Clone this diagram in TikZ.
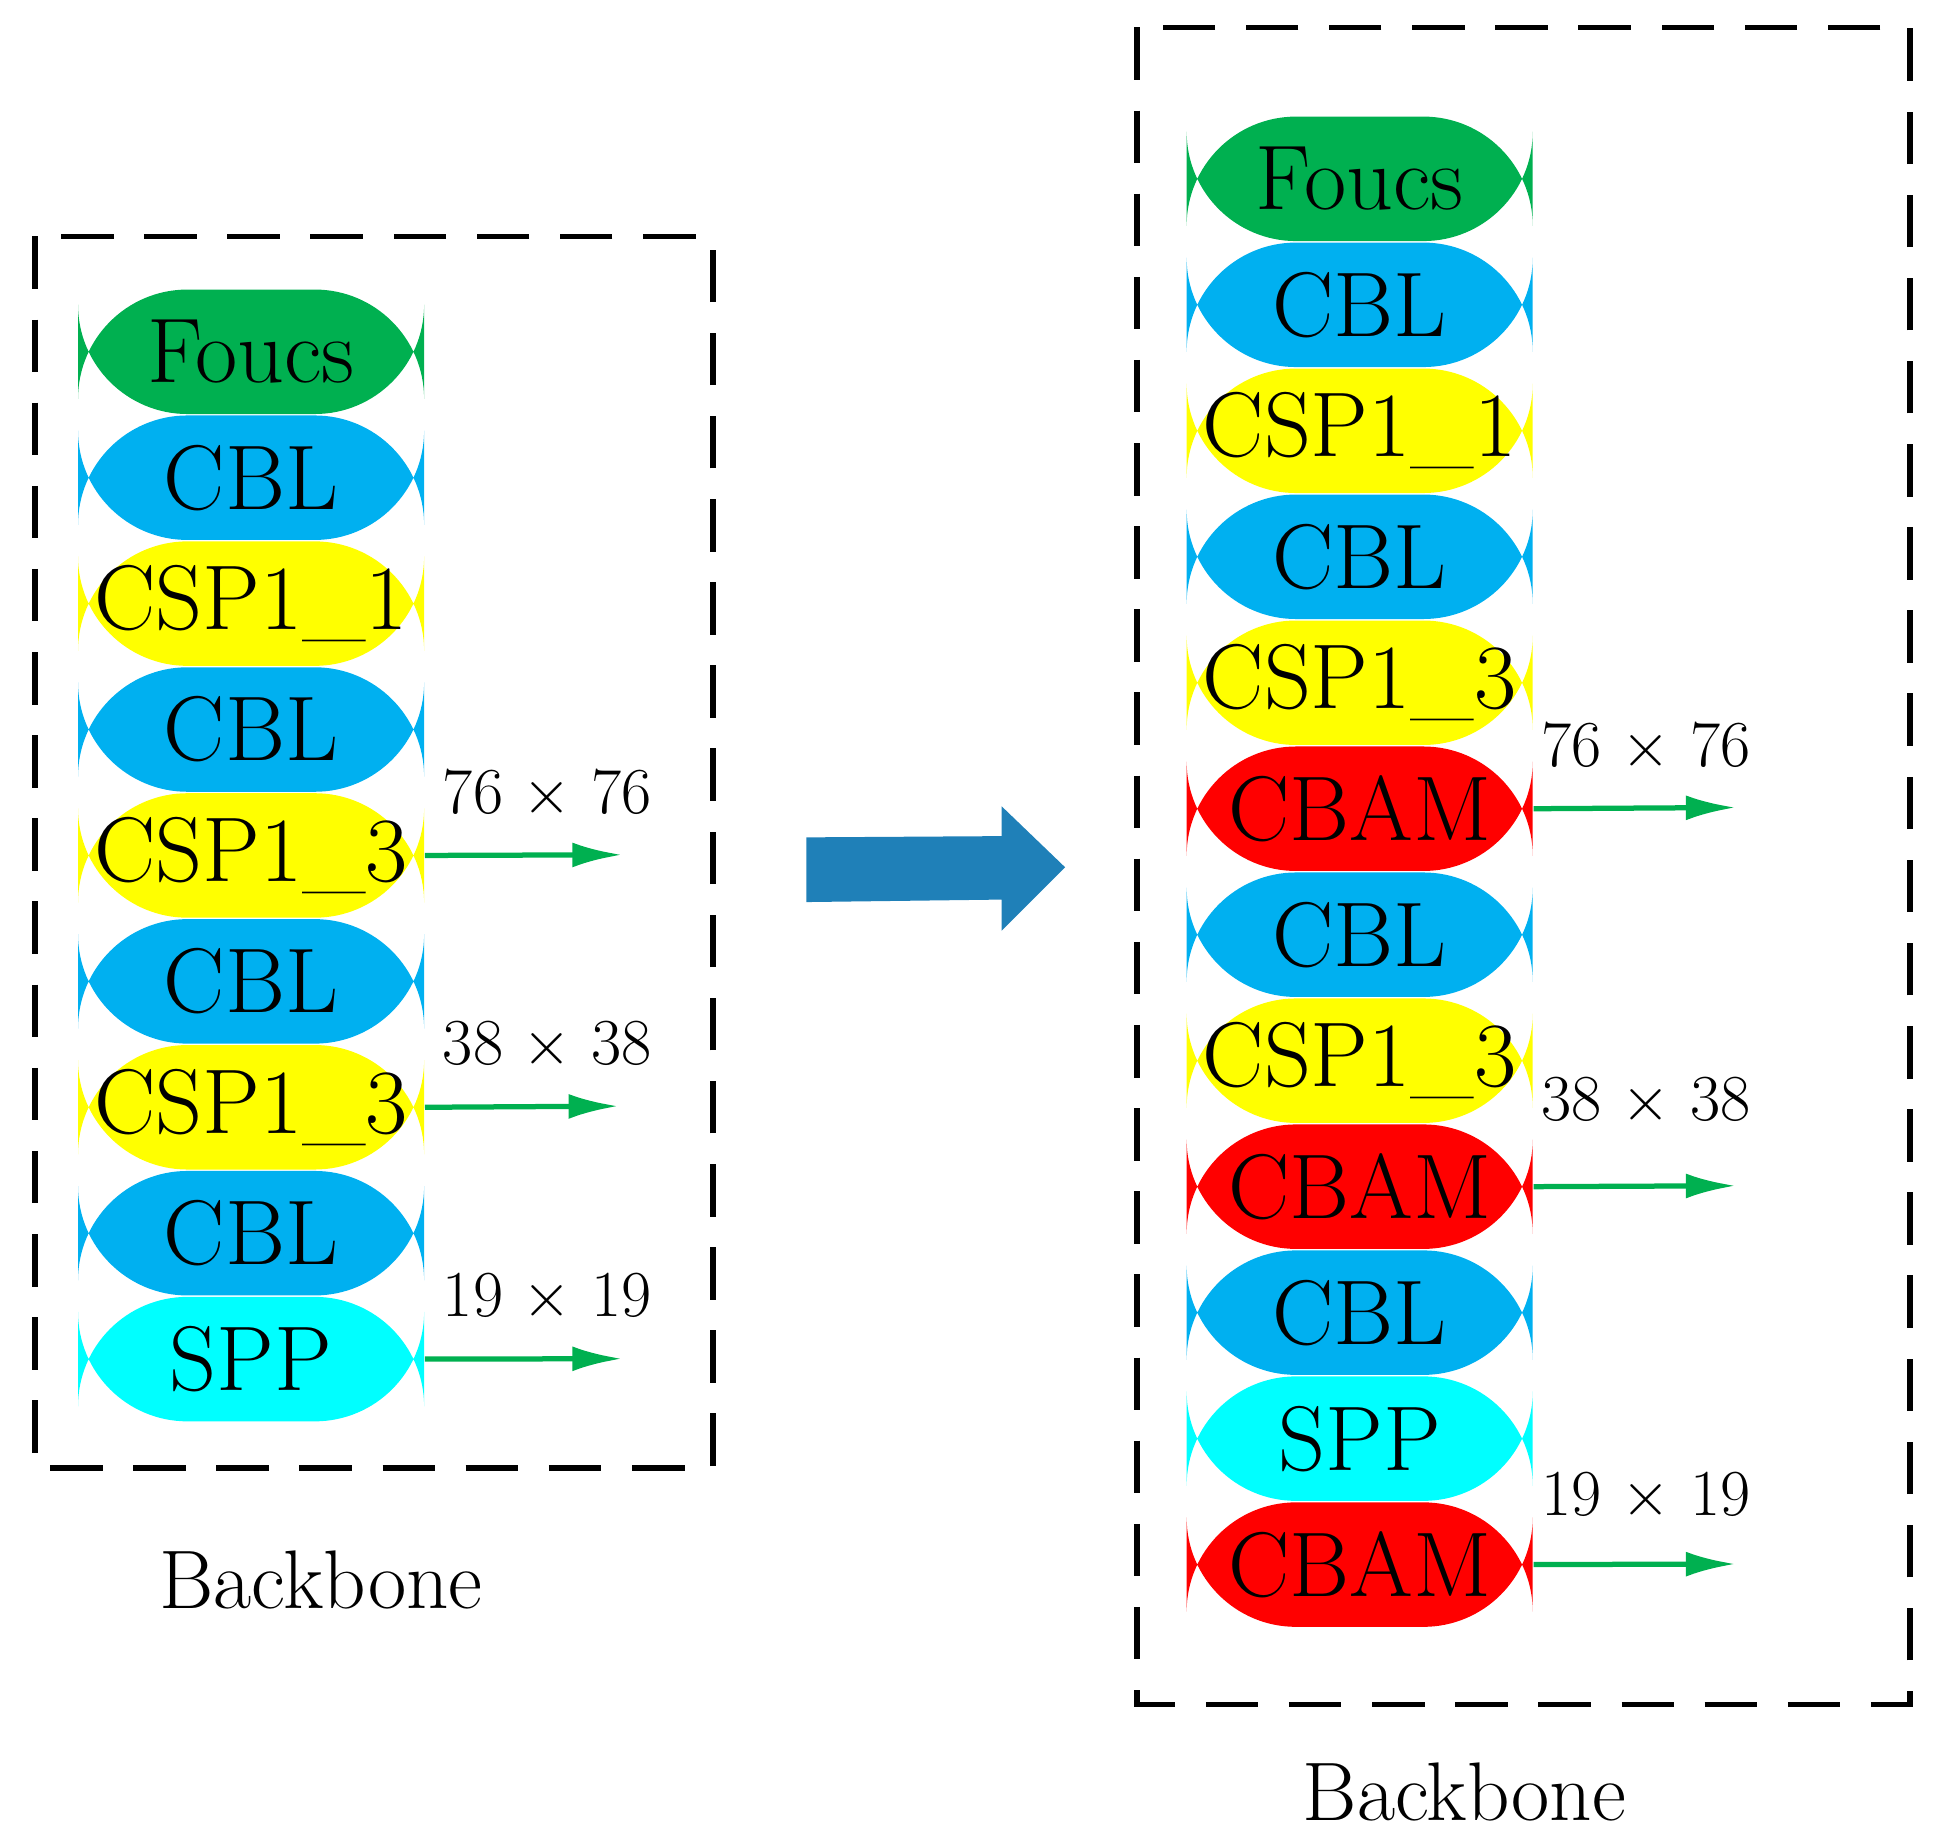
\documentclass[tikz,border=0pt]{standalone}
\usepackage{tikz}
\usetikzlibrary{arrows.meta}
\definecolor{cgreen}{HTML}{00B050}
\definecolor{cblue}{HTML}{00B0F0}
\definecolor{cyel}{HTML}{FFFF00}
\definecolor{ccyan}{HTML}{00FFFF}
\definecolor{cred}{HTML}{FF0000}
\definecolor{arrblue}{HTML}{1F80B8}
\definecolor{agreen}{HTML}{00B050}
\begin{document}
\begin{tikzpicture}[x=0.01cm,y=-0.01cm,
  blk/.style={rounded corners=25, minimum width=2.78cm, minimum height=1.0cm, inner sep=0pt, font=\fontsize{21}{21}\selectfont, anchor=north west},
  lab/.style={font=\fontsize{15}{15}\selectfont},
  big/.style={font=\fontsize{19}{19}\selectfont},
  outarr/.style={draw=agreen, line width=1.2pt, -{Latex[length=0.4cm,width=0.2cm]}},
  frame/.style={draw, line width=1.3pt, dash pattern=on 12pt off 7pt}]
\useasboundingbox (0,0) rectangle (1560,1482);
\draw[frame] (28,190) rectangle (573,1180);
\draw[frame] (914,22) rectangle (1535,1370);
% left column
\foreach \t/\c [count=\i from 0] in {Foucs/cgreen,CBL/cblue,CSP1\_1/cyel,CBL/cblue,CSP1\_3/cyel,CBL/cblue,CSP1\_3/cyel,CBL/cblue,SPP/ccyan}
  \node[blk, fill=\c] (L\i) at (62,232+101.2*\i) {\t};
% right column
\foreach \t/\c [count=\i from 0] in {Foucs/cgreen,CBL/cblue,CSP1\_1/cyel,CBL/cblue,CSP1\_3/cyel,CBAM/cred,CBL/cblue,CSP1\_3/cyel,CBAM/cred,CBL/cblue,SPP/ccyan,CBAM/cred}
  \node[blk, fill=\c] (R\i) at (953,93+101.25*\i) {\t};
% left outputs
\coordinate (la) at (500,687); \coordinate (lb) at (497,889); \coordinate (lc) at (500,1092);
\draw[outarr] (L4.east) -- (la);
\draw[outarr] (L6.east) -- (lb);
\draw[outarr] (L8.east) -- (lc);
\node[lab] (t1) at (440,638) {76 $\times$ 76};
\node[lab] (t2) at (440,840) {38 $\times$ 38};
\node[lab] (t3) at (440,1043) {19 $\times$ 19};
% right outputs
\coordinate (ra) at (1395,649); \coordinate (rb) at (1395,953); \coordinate (rc) at (1395,1257);
\draw[outarr] (R5.east) -- (ra);
\draw[outarr] (R8.east) -- (rb);
\draw[outarr] (R11.east) -- (rc);
\node[lab] (u1) at (1323,600) {76 $\times$ 76};
\node[lab] (u2) at (1323,885) {38 $\times$ 38};
\node[lab] (u3) at (1323,1203) {19 $\times$ 19};
% big arrow
\fill[arrblue] (648,673) -- (805,672) -- (805,648) -- (856,697) -- (805,748) -- (805,723) -- (648,725) -- cycle;
\node[big] (b1) at (258,1270) {Backbone};
\node[big] (b2) at (1177,1440) {Backbone};
\end{tikzpicture}
\end{document}
